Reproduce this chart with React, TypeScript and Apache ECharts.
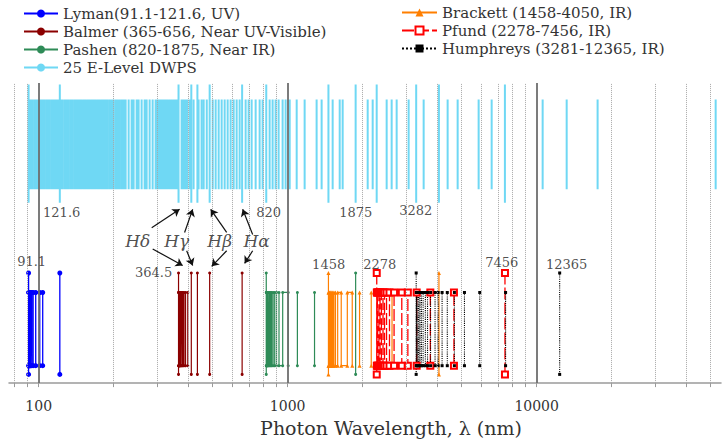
import React, { useEffect, useRef } from "react";
import * as echarts from "echarts";

const FONT = "'DejaVu Serif', 'Liberation Serif', serif";

// ---- Spectral series wavelengths (nm) ----
const lymanMain = [91.1, 121.6];
const lymanBand = [91.2, 91.4, 91.6, 91.8, 92.1, 92.3, 92.6, 93.1, 93.8, 95.0, 97.3, 101.0, 103.8];
const lymanSingle: number[] = [];

const balmerMain = [364.5, 410.2, 434.0, 486.1, 656.3];
const balmerBand = [364.6, 365.0, 365.5, 366.1, 366.9, 367.8, 369.0, 370.4, 372.2, 374.5, 377.1, 379.8, 383.5, 388.9, 397.0];
const balmerSingle: number[] = [];

const pashenMain = [820.4, 1875];
const pashenBand = [820.6, 821.5, 823, 825, 828, 831, 835, 841, 848, 855, 863, 874, 887, 902, 923, 955, 1005];
const pashenSingle = [1094, 1282];

const brackettMain = [1458, 4051];
const brackettBand = [1459, 1463, 1470, 1480, 1492, 1505, 1519, 1534, 1556, 1588, 1641, 1736, 1817];
const brackettSingle = [1944, 2166, 2625];

const pfundMain = [2279, 7460];
const pfundBand = [2281, 2290, 2305, 2325, 2350, 2380, 2415, 2449, 2495, 2564, 2675, 2873, 3039];
const pfundSingle = [3297, 3741, 4654];

const humphreysMain = [3282, 12372];
const humphreysBand = [3284, 3295, 3312, 3335, 3365, 3400, 3445, 3500, 3573, 3645, 3749, 3908, 4021];
const humphreysSingle = [4171, 4376, 4673, 5129, 5908, 7503];

// ---- 25 E-Level DWPS lines (nm) ----
const dwpsLong = [91.1, 121.6, 364.5, 410.2, 434.0, 486.1, 656.3, 820.4, 1458, 1875, 2278, 3282, 4050, 7456];
const dwpsShort = [
  92.0, 93.3, 94.6, 96.4, 97.7, 99.1, 100.9, 102.3, 103.8, 105.7, 107.7, 109.2, 110.7, 112.8, 114.8,
  116.5, 118.1, 120.3, 123.1, 124.8, 127.2, 129.5, 131.9, 134.4, 136.9, 139.5, 142.1, 144.7, 146.8,
  148.8, 151.6, 154.4, 157.3, 160.2, 163.2, 166.2, 169.3, 172.5, 175.7, 179.0, 182.3, 185.7, 189.1,
  192.7, 196.3, 199.9, 203.8, 207.5, 211.4, 215.4, 219.4, 223.5, 229.8, 236.2, 240.6, 247.4, 252.0,
  259.1, 266.4, 271.4, 279.0, 286.9, 294.9, 300.4, 306.0, 311.7, 317.5, 323.4, 329.4, 335.6, 341.9,
  348.3, 354.8, 361.3, 375.0, 382.0, 389.1, 394.6, 403.7, 419.0, 438.8, 451.1, 459.9, 473.2, 500.0,
  513.8, 528.3, 543.1, 558.4, 574.1, 590.2, 606.9, 623.9, 641.4, 678.0, 697.0, 716.7, 743.7, 771.7,
  793.4, 846.4, 870.1, 894.6, 919.7, 954.4, 981.3, 1019, 1087, 1170, 1307, 1369, 1516, 1618, 1663,
  2096, 2195, 2498, 2616, 2740, 3061, 3517, 4390, 4816, 5848, 6596, 10570, 13200, 17570, 52350,
];

// ---- Axis ticks / grid ----
const majorGrid = [100, 1000, 10000];
const minorGrid = [80, 90, 200, 300, 400, 500, 600, 700, 800, 900, 2000, 3000, 4000, 5000, 6000, 7000, 8000, 9000, 20000, 30000, 40000, 50000];
const axisLabelValues = [100, 1000, 10000];

// ---- Annotation texts ----
const numberLabels = ["121.6", "820", "1875", "3282", "91.1", "364.5", "1458", "2278", "7456", "12365"];
const greekLabels = ["Hδ", "Hγ", "Hβ", "Hα"];

// layout (data-space anchors for annotations, vertical levels of line ends)
const LV = {
  dwpsLongTop: 99.5, dwpsLongBot: 60.1, dwpsTop: 94.5, dwpsBot: 64.6,
  longTop: 36.7, longBot: 2.9, shortTop: 30.2, shortBot: 5.8,
};
const numberAnchors: [number, number][] = [
  [123.7, 56.9], [838.8, 56.9], [1876, 56.9], [3267, 57.6], [93.7, 40.5],
  [289.6, 36.7], [1461, 39.5], [2342, 39.5], [7236, 40.2], [13199, 39.5],
];
const greekAnchors: [number, number][] = [[249.8, 47.3], [358.4, 47.3], [533.3, 47.3], [750.8, 47.3]];
const arrowCoords: [number, number, number, number][] = [
  [284.4, 51.8, 368.1, 57.9], [287.0, 44.7, 378.7, 39.2],
  [385.5, 50.2, 415.4, 57.9], [393.0, 44.1, 415.4, 39.2],
  [568.9, 50.2, 490.7, 57.9], [568.9, 44.1, 495.3, 38.9],
  [723.5, 49.5, 659.6, 57.9], [723.5, 44.1, 671.8, 39.9],
];

function segs(ws: number[], top: number, bot: number) {
  const out: any[] = [];
  ws.forEach((w) => { out.push([w, bot], [w, top], [w, "-"]); });
  return out;
}
function band(ws: number[], top: number, bot: number) {
  const out: any[] = [];
  ws.forEach((w, i) => {
    if (i % 2 === 0) out.push([w, top], [w, bot]);
    else out.push([w, bot], [w, top]);
  });
  if (ws.length) out.push([ws[ws.length - 1], "-"]);
  return out;
}
function spectral(main: number[], bandW: number[], single: number[]) {
  return [
    ...segs(main, LV.longTop, LV.longBot),
    ...band(bandW, LV.shortTop, LV.shortBot),
    ...segs(single, LV.shortTop, LV.shortBot),
  ];
}

const NAMES = {
  lyman: "Lyman(91.1-121.6, UV)",
  balmer: "Balmer (365-656, Near UV-Visible)",
  pashen: "Pashen (820-1875, Near IR)",
  dwps: "25 E-Level DWPS",
  brackett: "Brackett (1458-4050, IR)",
  pfund: "Pfund (2278-7456, IR)",
  humphreys: "Humphreys (3281-12365, IR)",
};

function lineSeries(name: string, data: any[], color: string, symbol: string, symbolSize: number, width: number, type: any) {
  return {
    name, type: "line", data, symbol, symbolSize, showSymbol: true, showAllSymbol: true,
    connectNulls: false, silent: true, z: 3, emphasis: { disabled: true },
    lineStyle: { color, width, type }, itemStyle: { color },
  };
}

export default function App() {
  const ref = useRef<HTMLDivElement>(null);
  useEffect(() => {
    if (!ref.current) return;
    const chart = echarts.init(ref.current, null, { renderer: "svg" });
    const tickValues = [...majorGrid, ...minorGrid].sort((a, b) => a - b);
    const legendText = { fontFamily: FONT, fontSize: 15, color: "#333" };
    const option: any = {
      animation: false,
      backgroundColor: "#ffffff",
      textStyle: { fontFamily: FONT },
      grid: { left: 9, right: 1, top: 83, bottom: 48 },
      legend: [
        {
          orient: "vertical", left: 23, top: 6, itemWidth: 34, itemHeight: 10, itemGap: 3, padding: 0,
          selectedMode: false, textStyle: legendText,
          data: [NAMES.lyman, NAMES.balmer, NAMES.pashen, NAMES.dwps],
        },
        {
          orient: "vertical", left: 401, top: 5, itemWidth: 35, itemHeight: 10, itemGap: 3, padding: 0,
          selectedMode: false, textStyle: legendText,
          data: [NAMES.brackett, NAMES.pfund, NAMES.humphreys],
        },
      ],
      xAxis: {
        type: "log", logBase: 10, min: 76, max: 55000,
        axisLine: { show: true, onZero: false, lineStyle: { color: "#9a9a9a", width: 1.5 } },
        axisTick: { show: true, customValues: tickValues, length: 4, lineStyle: { color: "#9a9a9a" } },
        axisLabel: {
          customValues: axisLabelValues, formatter: (v: number) => String(Math.round(v)),
          fontFamily: FONT, fontSize: 14, color: "#333", margin: 16,
        },
        splitLine: { show: false },
        name: "Photon Wavelength, λ (nm)", nameLocation: "middle", nameGap: 27,
        nameTextStyle: { fontFamily: FONT, fontSize: 19, color: "#333", padding: [0, 0, 0, 52] },
      },
      yAxis: { type: "value", min: 0, max: 100, show: false },
      series: [
        {
          name: "gridLines", type: "line", data: [], silent: true, z: 1,
          markLine: {
            silent: true, symbol: ["none", "none"], label: { show: false },
            data: [
              ...minorGrid.map((v) => ({ xAxis: v, lineStyle: { type: "dotted", color: "#a8a8a8", width: 1 } })),
              ...majorGrid.map((v) => ({ xAxis: v, lineStyle: { type: "solid", color: "#6e6e6e", width: 1.8 } })),
            ],
          },
        },
        {
          name: NAMES.dwps, type: "line", symbol: "none", silent: true, z: 2, connectNulls: false,
          emphasis: { disabled: true },
          data: [...segs(dwpsLong, LV.dwpsLongTop, LV.dwpsLongBot), ...segs(dwpsShort, LV.dwpsTop, LV.dwpsBot)],
          lineStyle: { color: "#6fd8f4", width: 2 }, itemStyle: { color: "#6fd8f4" },
        },
        lineSeries(NAMES.lyman, spectral(lymanMain, lymanBand, lymanSingle), "#0000ff", "circle", 5, 1.3, "solid"),
        lineSeries(NAMES.balmer, spectral(balmerMain, balmerBand, balmerSingle), "#8b0000", "circle", 3, 1.2, "solid"),
        lineSeries(NAMES.pashen, spectral(pashenMain, pashenBand, pashenSingle), "#2e8b57", "circle", 3, 1.2, "solid"),
        lineSeries(NAMES.brackett, spectral(brackettMain, brackettBand, brackettSingle), "#ff7f00", "triangle", 4, 1.2, "solid"),
        lineSeries(NAMES.pfund, spectral(pfundMain, pfundBand, pfundSingle), "#ff0000", "emptyRect", 6, 1.3, [12, 3]),
        lineSeries(NAMES.humphreys, spectral(humphreysMain, humphreysBand, humphreysSingle), "#000000", "rect", 3, 1.1, "dotted"),
        {
          name: "annotations", type: "scatter", silent: true, z: 6, symbolSize: 1,
          itemStyle: { color: "rgba(0,0,0,0)" },
          label: {
            show: true, position: "inside", formatter: "{b}",
            fontFamily: FONT, fontSize: 13, color: "#222",
          },
          data: [
            ...numberLabels.map((t, i) => ({ name: t, value: numberAnchors[i] })),
            ...greekLabels.map((t, i) => ({
              name: t, value: greekAnchors[i],
              label: { fontStyle: "italic", fontSize: 17, color: "#222" },
            })),
          ],
          markLine: {
            silent: true, symbol: ["none", "arrow"], symbolSize: 7, label: { show: false },
            lineStyle: { color: "#111", width: 1.2, type: "solid" },
            data: arrowCoords.map((a) => [{ coord: [a[0], a[1]] }, { coord: [a[2], a[3]] }]),
          },
        },
      ],
    };
    chart.setOption(option);
    return () => chart.dispose();
  }, []);
  return <div ref={ref} style={{ position: "fixed", left: 0, top: 0, width: 722, height: 442 }} />;
}
